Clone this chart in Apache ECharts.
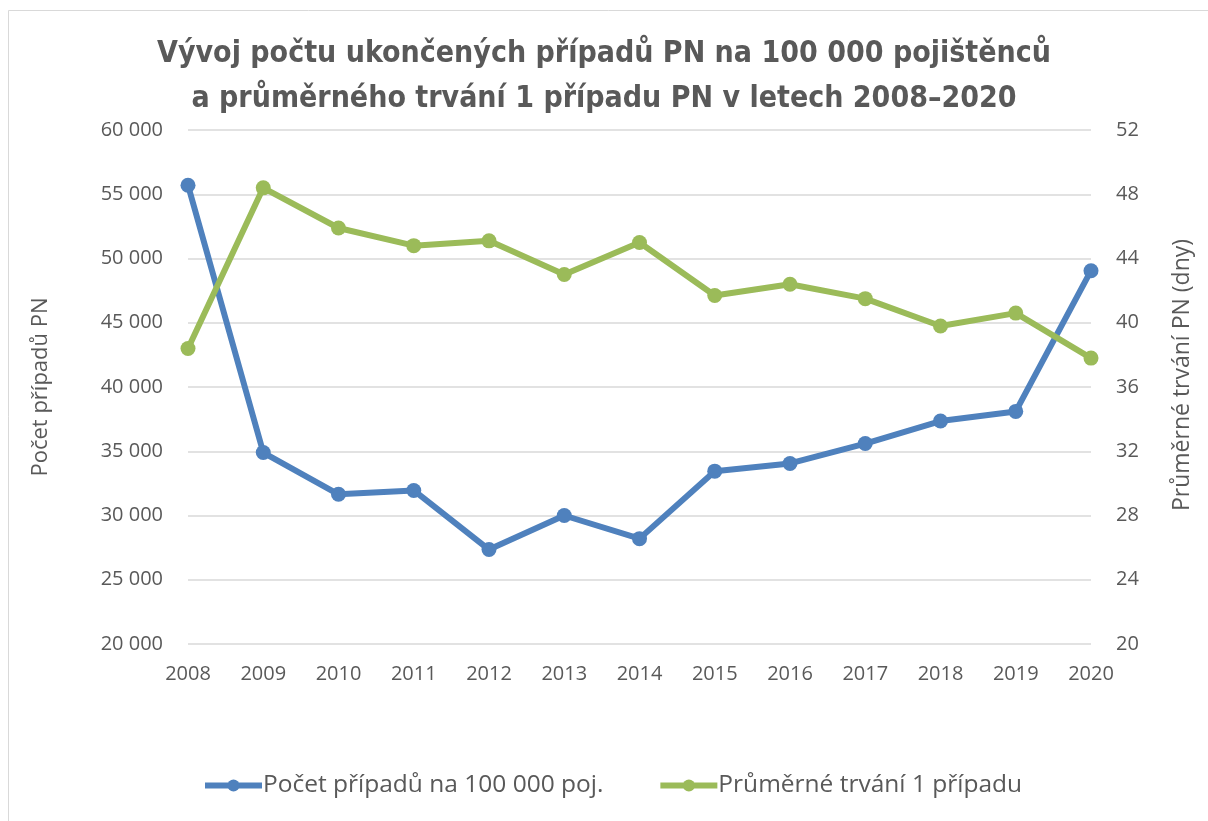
<!DOCTYPE html>
<html><head><meta charset="utf-8">
<script src="https://cdn.jsdelivr.net/npm/echarts@6/dist/echarts.min.js"></script>
<style>html,body{margin:0;padding:0;background:#fff}#c{width:1208px;height:821px}</style>
</head><body><div id="c"></div>
<script>
const years = ['2008','2009','2010','2011','2012','2013','2014','2015','2016','2017','2018','2019','2020'];
const cases = [55700, 34900, 31650, 31950, 27350, 30000, 28200, 33450, 34050, 35600, 37350, 38100, 49050];
const duration = [38.4, 48.4, 45.9, 44.8, 45.1, 43.0, 45.0, 41.7, 42.4, 41.5, 39.8, 40.6, 37.8];
const seriesNames = ['Počet případů na 100 000 poj.', 'Průměrné trvání 1 případu'];
const titleText = 'Vývoj počtu ukončených případů PN na 100 000 pojištěnců\na průměrného trvání 1 případu PN v letech 2008–2020';
const leftAxisName = 'Počet případů PN';
const rightAxisName = 'Průměrné trvání PN (dny)';

const txt = '#595959';
const font = '"Open Sans", sans-serif';
const chart = echarts.init(document.getElementById('c'));
chart.setOption({
  animation: false,
  backgroundColor: '#fff',
  graphic: [{type:'rect', shape:{x:8.5,y:10.5,width:1210,height:820}, style:{fill:'none', stroke:'#D9D9D9', lineWidth:1}}],
  title: {
    text: titleText, left: 'center', top: 27,
    textStyle: {fontFamily: '"DejaVu Sans Condensed", "DejaVu Sans", sans-serif', fontWeight: 'bold', fontSize: 30, color: txt, lineHeight: 45}
  },
  legend: {
    bottom: 18, left: 197, itemGap: 54, itemWidth: 57, itemHeight: 15,
    lineStyle: {width: 6},
    textStyle: {fontFamily: font, fontSize: 24.5, color: txt, padding:[0,0,0,-4]},
    data: seriesNames
  },
  grid: {left: 188, right: 117, top: 130, bottom: 177},
  xAxis: {
    type: 'category', data: years, boundaryGap: false,
    axisLine: {show: false}, axisTick: {show: false},
    axisLabel: {fontFamily: font, fontSize: 20, color: txt, margin: 20}
  },
  yAxis: [{
    type: 'value', min: 20000, max: 60000, interval: 5000,
    name: leftAxisName, nameLocation: 'middle', nameGap: 136, nameRotate: 90,
    nameTextStyle: {fontFamily: font, fontSize: 22, color: txt},
    axisLabel: {fontFamily: font, fontSize: 20, color: txt, margin: 25,
      formatter: v => String(v).replace(/\B(?=(\d{3})+(?!\d))/g, ' ')},
    splitLine: {lineStyle: {color: '#D9D9D9', width: 1.5}},
    axisLine: {show: false}, axisTick: {show: false}
  }, {
    type: 'value', min: 20, max: 52, interval: 4,
    name: rightAxisName, nameLocation: 'middle', nameGap: 80, nameRotate: 90,
    nameTextStyle: {fontFamily: font, fontSize: 23, color: txt, padding: [0, 0, 0, 24]},
    axisLabel: {fontFamily: font, fontSize: 20, color: txt, margin: 25},
    splitLine: {show: false}, axisLine: {show: false}, axisTick: {show: false}
  }],
  series: [{
    name: seriesNames[0], type: 'line', data: cases, yAxisIndex: 0,
    symbol: 'circle', symbolSize: 15, color: '#4F81BD',
    lineStyle: {width: 6, color: '#4F81BD'}, itemStyle: {color: '#4F81BD'}
  }, {
    name: seriesNames[1], type: 'line', data: duration, yAxisIndex: 1,
    symbol: 'circle', symbolSize: 15, color: '#9BBB59',
    lineStyle: {width: 6, color: '#9BBB59'}, itemStyle: {color: '#9BBB59'}
  }]
});
</script></body></html>
